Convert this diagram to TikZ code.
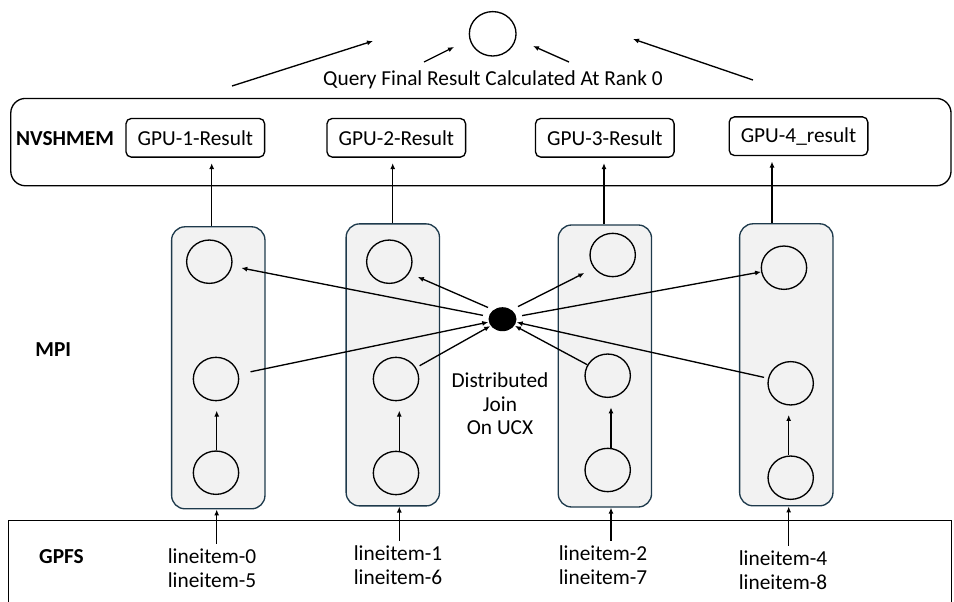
\documentclass[tikz,border=0pt]{standalone}
\usepackage{fontspec}
\setmainfont{Carlito}
\usetikzlibrary{shapes.geometric,arrows.meta}
\definecolor{rankfill}{HTML}{F2F2F2}
\definecolor{rankline}{HTML}{1E3A4C}
\begin{document}
\begin{tikzpicture}[x=0.75pt, y=-0.75pt, line width=1pt, font=\fontsize{16}{17.6}\selectfont, >={Latex[length=4.5pt,width=3.8pt]}]
\tikzstyle{tx}=[draw=none, fill=none, align=center]
\tikzstyle{lbl}=[draw=none, fill=none, font=\fontsize{16}{17.6}\selectfont\bfseries]
\tikzstyle{gpu}=[draw, rounded corners=4pt, minimum width=104pt, minimum height=29pt, inner sep=0pt]
\tikzstyle{rank}=[draw=rankline, fill=rankfill, rounded corners=10pt, minimum width=70pt, minimum height=211.5pt]
\tikzstyle{op}=[draw, ellipse, minimum width=34pt, minimum height=32.5pt, inner sep=0pt]
\tikzstyle{hub}=[fill, ellipse, minimum width=21pt, minimum height=18pt, inner sep=0pt]

\useasboundingbox (0,0) rectangle (954,602);

\node[op, minimum width=35pt, minimum height=33.3pt] (R) at (492.7,33.8) {};
\node[tx] (Q) at (493,79.5) {Query Final Result Calculated At Rank 0};
\coordinate (q1) at (232,86);  \coordinate (p1) at (373,41);
\coordinate (q2) at (424,62);  \coordinate (p2) at (454,47);
\coordinate (q3) at (569,62);  \coordinate (p3) at (533,46);
\coordinate (q4) at (753,80);  \coordinate (p4) at (633,39);
\foreach \i in {1,...,4} \draw[->] (q\i) -- (p\i);

\node[draw, rounded corners=11pt, minimum width=705.2pt, minimum height=65.5pt] (NV) at (480.9,142.1) {};
\node[lbl] (nvl) at (65,139) {NVSHMEM};
\node[gpu] (g1) at (195.3,137.8) {GPU-1-Result};
\node[gpu] (g2) at (396.3,137.8) {GPU-2-Result};
\node[gpu] (g3) at (604.8,137.8) {GPU-3-Result};
\node[gpu] (g4) at (798.5,136.2) {GPU-4\_result};

\node[lbl] (mpil) at (53.3,349.3) {MPI};
\node[rank] (c1) at (218.3,367.8) {};
\node[rank] (c2) at (392.8,364.9) {};
\node[rank] (c3) at (604.9,366) {};
\node[rank] (c4) at (786.3,364.8) {};

\node[op] (t1) at (209.3,261.7) {};
\node[op] (m1) at (216,379) {};
\node[op] (b1) at (216,472.7) {};
\node[op] (t2) at (389.3,261.7) {};
\node[op] (m2) at (396,379) {};
\node[op] (b2) at (396,473) {};
\node[op] (t3) at (612.7,255) {};
\node[op] (m3) at (607.7,375.7) {};
\node[op] (b3) at (607.7,470) {};
\node[op] (t4) at (784,267.7) {};
\node[op] (m4) at (790.7,383.3) {};
\node[op] (b4) at (790.7,477.7) {};

\node[hub] (J) at (502.5,319.2) {};
\node[tx] (D) at (500,404) {Distributed\\Join\\On UCX};

\draw (8.5,602) |- (951.5,520.5) -- (951.5,602);
\node[lbl] (gpfsl) at (61.5,556.7) {GPFS};
\node[tx] (l1) at (212,568) {lineitem-0\\lineitem-5};
\node[tx] (l2) at (398,565) {lineitem-1\\lineitem-6};
\node[tx] (l3) at (603,565) {lineitem-2\\lineitem-7};
\node[tx] (l4) at (783,570) {lineitem-4\\lineitem-8};

\coordinate (u1) at (211.7,0); \coordinate (u2) at (392.7,0);
\coordinate (u3) at (604,0);   \coordinate (u4) at (772,0);
\coordinate (a1) at (216.7,0); \coordinate (a2) at (399.3,0);
\coordinate (a3) at (611,0);   \coordinate (a4) at (788.7,0);
\foreach \i in {1,...,4} {
  \draw[->, shorten >=4pt] (c\i.north -| u\i) -- (g\i.south -| u\i);
  \draw[->, shorten >=7pt] (b\i.north -| a\i) -- (m\i.south -| a\i);
  \draw[->] (l\i.north -| a\i) -- (c\i.south -| a\i);
}

\draw[->, shorten <=4pt, shorten >=7pt] (J) -- (t1);
\draw[->, shorten <=9pt] (m1) -- (J);
\draw[->, shorten <=4pt, shorten >=7pt] (J.135) -- (t2.330);
\draw[->, shorten <=3pt] (m2) -- (J);
\draw[->, shorten <=5pt, shorten >=8pt] (J.45) -- (t3.215);
\draw[->, shorten <=4pt] (J) -- (t4);
\draw[->] (m3) -- (J);
\draw[->, shorten <=3pt] (m4) -- (J);
\end{tikzpicture}
\end{document}
